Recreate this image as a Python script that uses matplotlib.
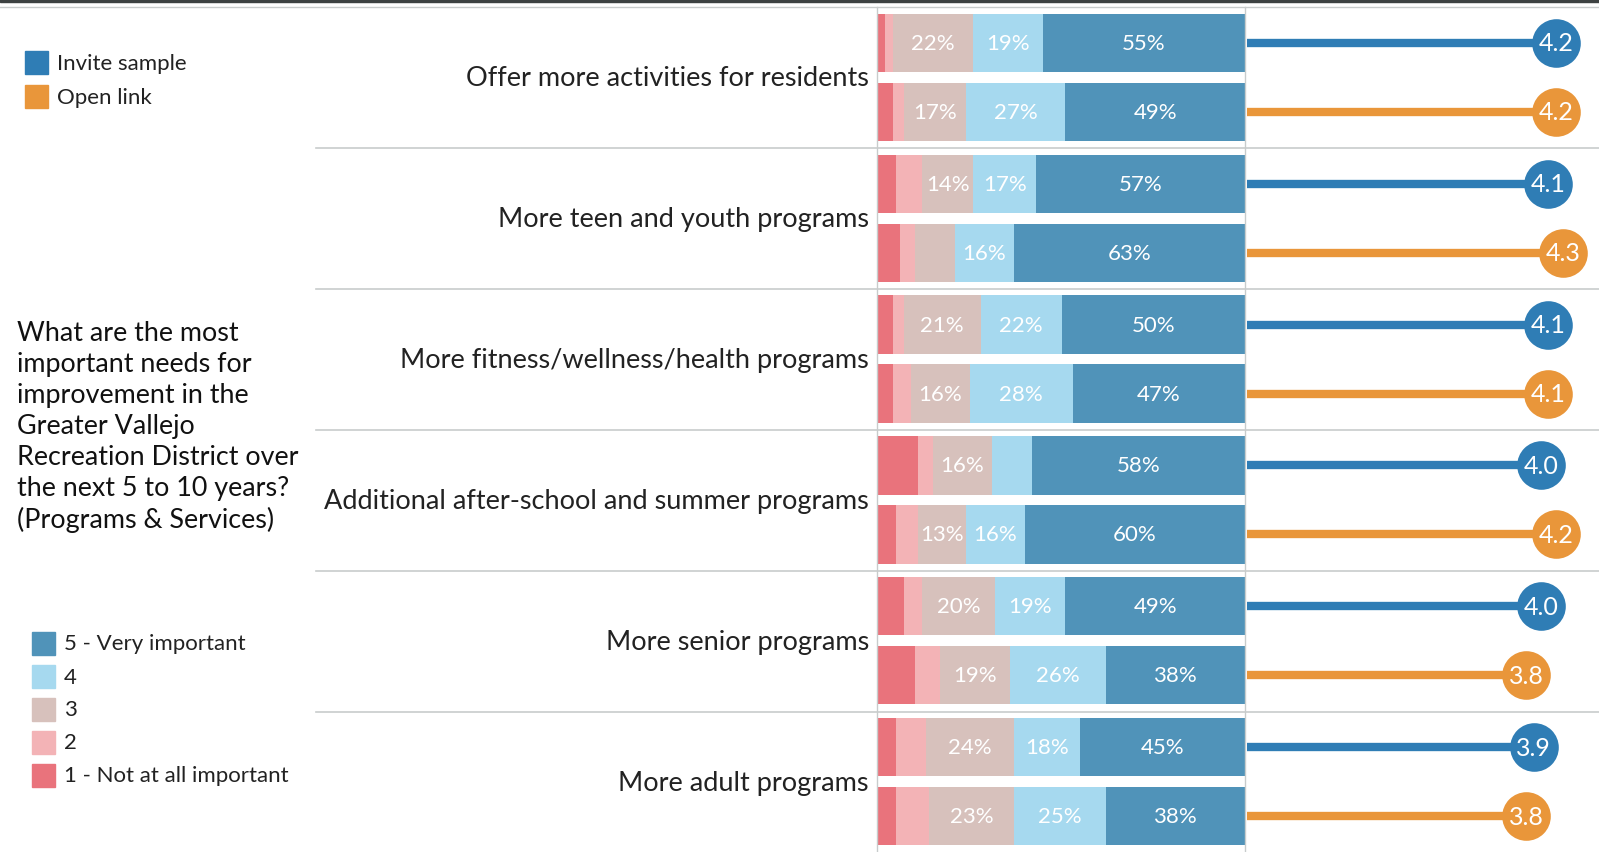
import numpy as np
import matplotlib.pyplot as plt
from matplotlib.patches import Rectangle
from matplotlib import rcParams

rcParams['font.family'] = ['Lato', 'DejaVu Sans']

# data
categories = ['Offer more activities for residents',
              'More teen and youth programs',
              'More fitness/wellness/health programs',
              'Additional after-school and summer programs',
              'More senior programs',
              'More adult programs']
# shares of answers 1..5 (%)
invite_pct = [[2, 2, 22, 19, 55],
              [5, 7, 14, 17, 57],
              [4, 3, 21, 22, 50],
              [11, 4, 16, 11, 58],
              [7, 5, 20, 19, 49],
              [5, 8, 24, 18, 45]]
open_pct = [[4, 3, 17, 27, 49],
            [6, 4, 11, 16, 63],
            [4, 5, 16, 28, 47],
            [5, 6, 13, 16, 60],
            [10, 7, 19, 26, 38],
            [5, 9, 23, 25, 38]]
invite_mean = [4.2, 4.1, 4.1, 4.0, 4.0, 3.9]
open_mean = [4.2, 4.3, 4.1, 4.2, 3.8, 3.8]

scale_labels = ['1 - Not at all important', '2', '3', '4', '5 - Very important']
scale_colors = ['#e9737c', '#f3b3b6', '#d7c1bc', '#a6d9ef', '#5093b9']
group_names = ['Invite sample', 'Open link']
group_colors = ['#2f7db5', '#e9963a']

W, H = 1599, 853
fig = plt.figure(figsize=(W / 100, H / 100), dpi=100)


def fx(x):
    return x / W


def fy(y):
    return 1 - y / H


top_px = 8
ax = fig.add_axes([fx(878), 0, fx(1245 - 878), fy(top_px)])
ax2 = fig.add_axes([fx(1247), 0, fx(W - 1247), fy(top_px)])

n = len(categories)
y_inv = np.arange(n) + 0.255
y_open = np.arange(n) + 0.745
bar_h = 0.415

for yy, data in [(y_inv, invite_pct), (y_open, open_pct)]:
    data = np.array(data)
    left = np.zeros(n)
    for k in range(5):
        ax.barh(yy, data[:, k], left=left, height=bar_h,
                color=scale_colors[k], edgecolor='none')
        if k >= 2:
            for i in range(n):
                if data[i, k] >= 12:
                    ax.text(left[i] + data[i, k] / 2, yy[i], '%d%%' % data[i, k],
                            ha='center', va='center', color='white', fontsize=16)
        left += data[:, k]

ax.set_xlim(0, 100)
ax.set_ylim(n, 0)
ax.axis('off')

# lollipops for mean scores
for yy, m, c in [(y_inv, invite_mean, group_colors[0]), (y_open, open_mean, group_colors[1])]:
    ax2.hlines(yy, 0, m, color=c, lw=6)
    ax2.plot(m, yy, 'o', ms=35, color=c, mec='none', clip_on=False)
    for i in range(n):
        ax2.text(m[i], yy[i], '%.1f' % m[i], ha='center', va='center',
                 color='white', fontsize=18)
ax2.set_xlim(0, (W - 1247) / 73.5)
ax2.set_ylim(n, 0)
ax2.axis('off')

# frame lines
fig.patches.append(Rectangle((0, fy(3)), 1, fy(0) - fy(3), transform=fig.transFigure,
                             color='#3d4242', zorder=5))
fig.lines.append(plt.Line2D([0, 1], [fy(top_px), fy(top_px)], transform=fig.transFigure,
                            color='#c8cccc', lw=1))
for g in range(1, n):
    yl = fy(top_px + g * 141)
    fig.lines.append(plt.Line2D([fx(316), 1], [yl, yl], transform=fig.transFigure,
                                color='#c8cccc', lw=1.2))
for xv in [877, 1245]:
    fig.lines.append(plt.Line2D([fx(xv), fx(xv)], [0, fy(top_px)], transform=fig.transFigure,
                                color='#c8cccc', lw=1))

# category labels
for i, cat in enumerate(categories):
    fig.text(fx(869), fy(top_px + (i + 0.5) * 141), cat, ha='right', va='center',
             fontsize=19.5, color='#222222')

# group legend
for j, (nm, c) in enumerate(zip(group_names, group_colors)):
    y0 = 52 + j * 34
    fig.patches.append(Rectangle((fx(25), fy(y0 + 23)), fx(23), fy(0) - fy(23),
                                 transform=fig.transFigure, color=c))
    fig.text(fx(57), fy(y0 + 11.5), nm, ha='left', va='center', fontsize=16, color='#222222')

# question
fig.text(fx(17), fy(321), 'What are the most\nimportant needs for\nimprovement in the\n'
         'Greater Vallejo\nRecreation District over\nthe next 5 to 10 years?\n'
         '(Programs & Services)', ha='left', va='top', fontsize=19.4,
         linespacing=1.3, color='#111111')

# scale legend
for k in range(5):
    y0 = 633 + (4 - k) * 33
    fig.patches.append(Rectangle((fx(32), fy(y0 + 23)), fx(23), fy(0) - fy(23),
                                 transform=fig.transFigure, color=scale_colors[k]))
    fig.text(fx(64), fy(y0 + 11.5), scale_labels[k], ha='left', va='center',
             fontsize=16, color='#222222')

plt.savefig('out.png', dpi=100)
